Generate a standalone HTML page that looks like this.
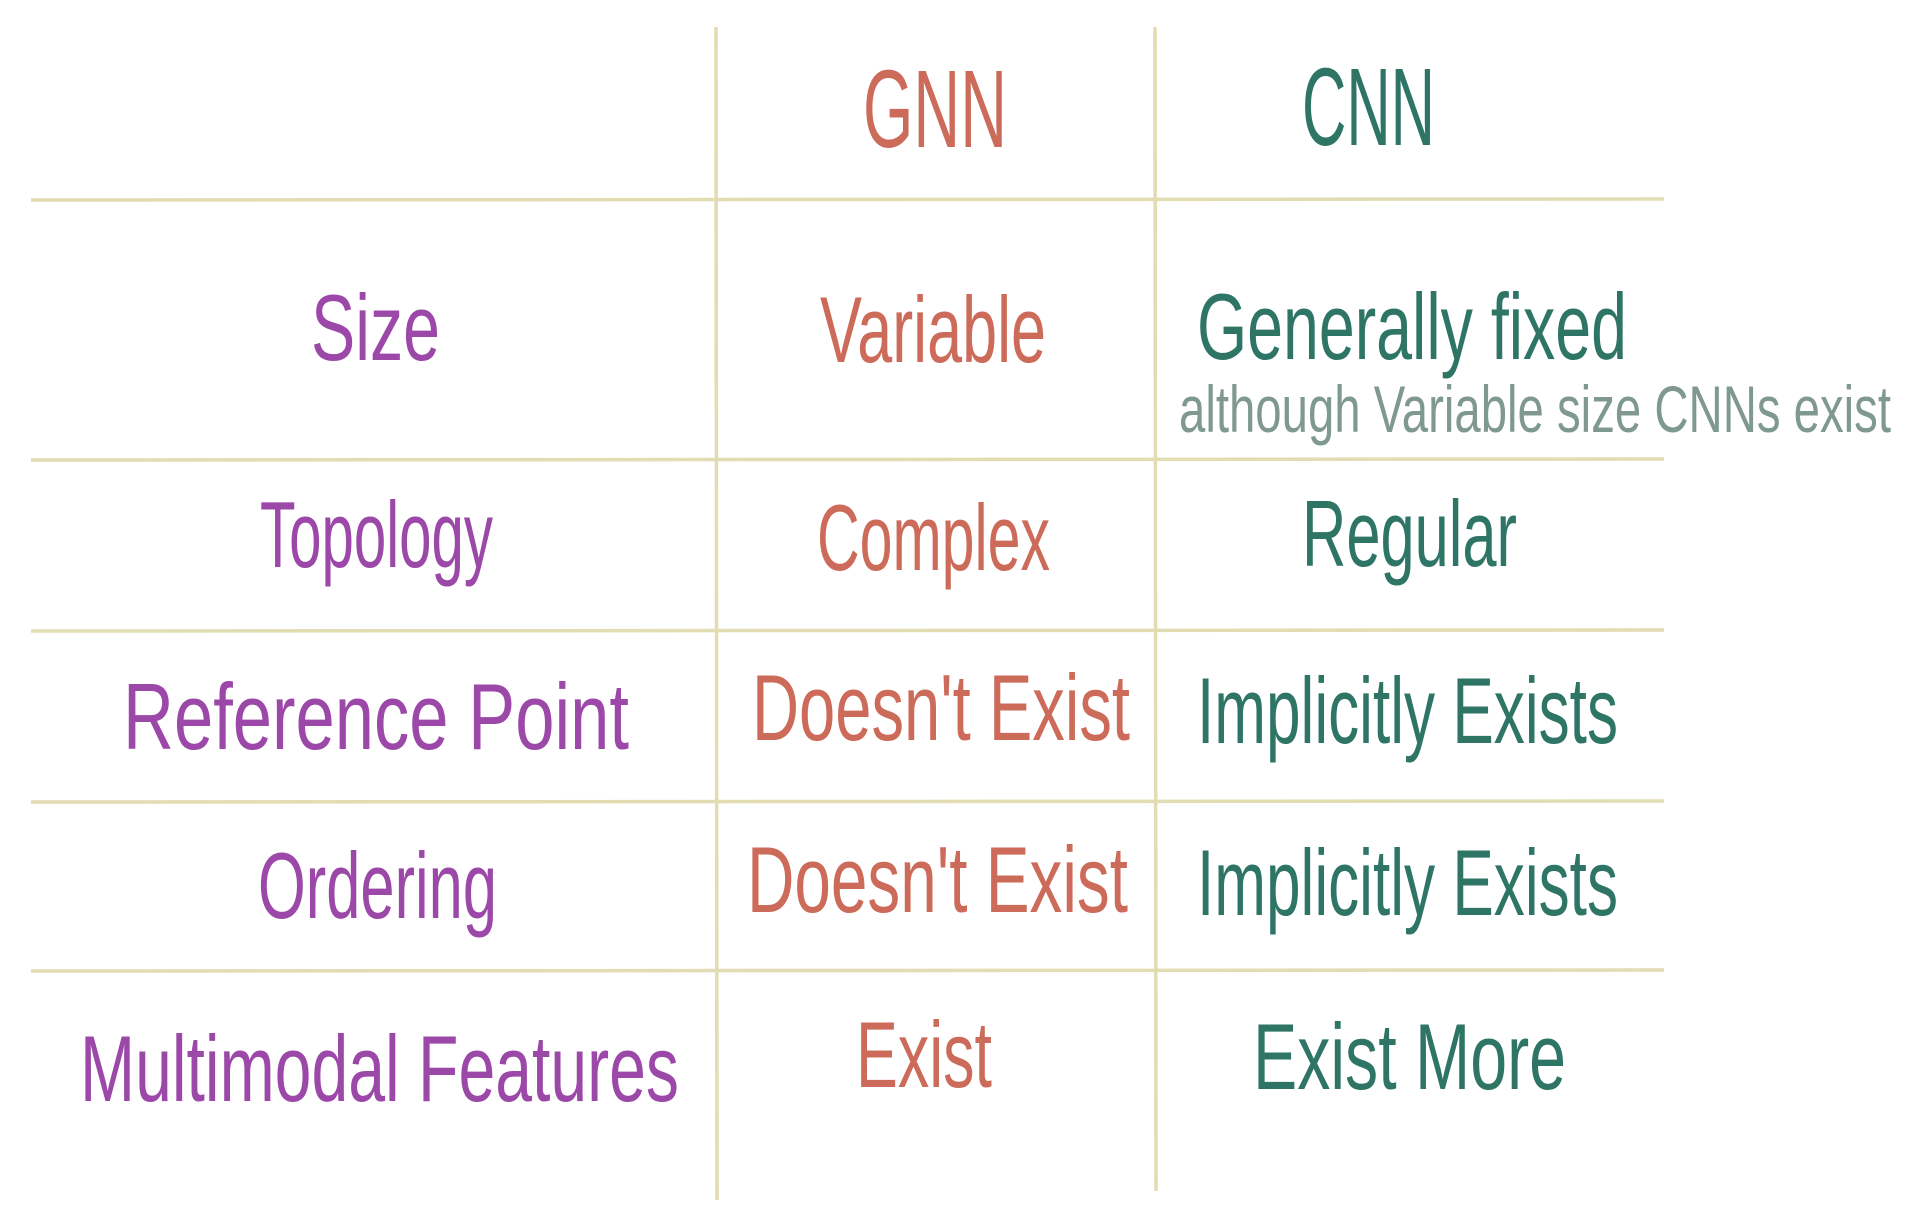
<!DOCTYPE html>
<html><head><meta charset="utf-8"><style>
html,body{margin:0;padding:0;background:#fff;}
svg{display:block;}
text{font-family:"Liberation Sans",sans-serif;}
</style></head><body>
<svg width="1926" height="1228" viewBox="0 0 1926 1228" xmlns="http://www.w3.org/2000/svg">
<g stroke="#e1dcb2" stroke-width="3.5" fill="none">
<line x1="716" y1="27" x2="717" y2="1200"/>
<line x1="1155" y1="27" x2="1156" y2="1191"/>
<line x1="31" y1="200" x2="1664" y2="199"/>
<line x1="31" y1="460" x2="1664" y2="459"/>
<line x1="31" y1="631" x2="1664" y2="630"/>
<line x1="31" y1="802" x2="1664" y2="801"/>
<line x1="31" y1="971" x2="1664" y2="970"/>
</g>
<g font-size="110">
<text x="863" y="147" fill="#cd6b5a" textLength="144" lengthAdjust="spacingAndGlyphs">GNN</text>
<text x="1302" y="145" fill="#2e7566" textLength="133" lengthAdjust="spacingAndGlyphs">CNN</text>
</g>
<g font-size="94" fill="#9b48a8">
<text x="311" y="360" textLength="129" lengthAdjust="spacingAndGlyphs">Size</text>
<text x="260" y="567" textLength="233" lengthAdjust="spacingAndGlyphs">Topology</text>
<text x="123" y="749" textLength="506" lengthAdjust="spacingAndGlyphs">Reference Point</text>
<text x="258" y="918" textLength="239" lengthAdjust="spacingAndGlyphs">Ordering</text>
<text x="80" y="1101" textLength="599" lengthAdjust="spacingAndGlyphs">Multimodal Features</text>
</g>
<g font-size="94" fill="#cd6b5a">
<text x="820" y="362" textLength="226" lengthAdjust="spacingAndGlyphs">Variable</text>
<text x="817" y="570" textLength="233" lengthAdjust="spacingAndGlyphs">Complex</text>
<text x="752" y="740" textLength="378" lengthAdjust="spacingAndGlyphs">Doesn't Exist</text>
<text x="747" y="912" textLength="381" lengthAdjust="spacingAndGlyphs">Doesn't Exist</text>
<text x="856" y="1087" textLength="136" lengthAdjust="spacingAndGlyphs">Exist</text>
</g>
<g font-size="94" fill="#2e7566">
<text x="1197" y="359" textLength="430" lengthAdjust="spacingAndGlyphs">Generally fixed</text>
<text x="1302" y="566" textLength="215" lengthAdjust="spacingAndGlyphs">Regular</text>
<text x="1197" y="743" textLength="421" lengthAdjust="spacingAndGlyphs">Implicitly Exists</text>
<text x="1197" y="915" textLength="421" lengthAdjust="spacingAndGlyphs">Implicitly Exists</text>
<text x="1253" y="1089" textLength="313" lengthAdjust="spacingAndGlyphs">Exist More</text>
</g>
<text x="1179" y="432" font-size="66" fill="#7f9990" textLength="712" lengthAdjust="spacingAndGlyphs">although Variable size CNNs exist</text>
</svg>
</body></html>
